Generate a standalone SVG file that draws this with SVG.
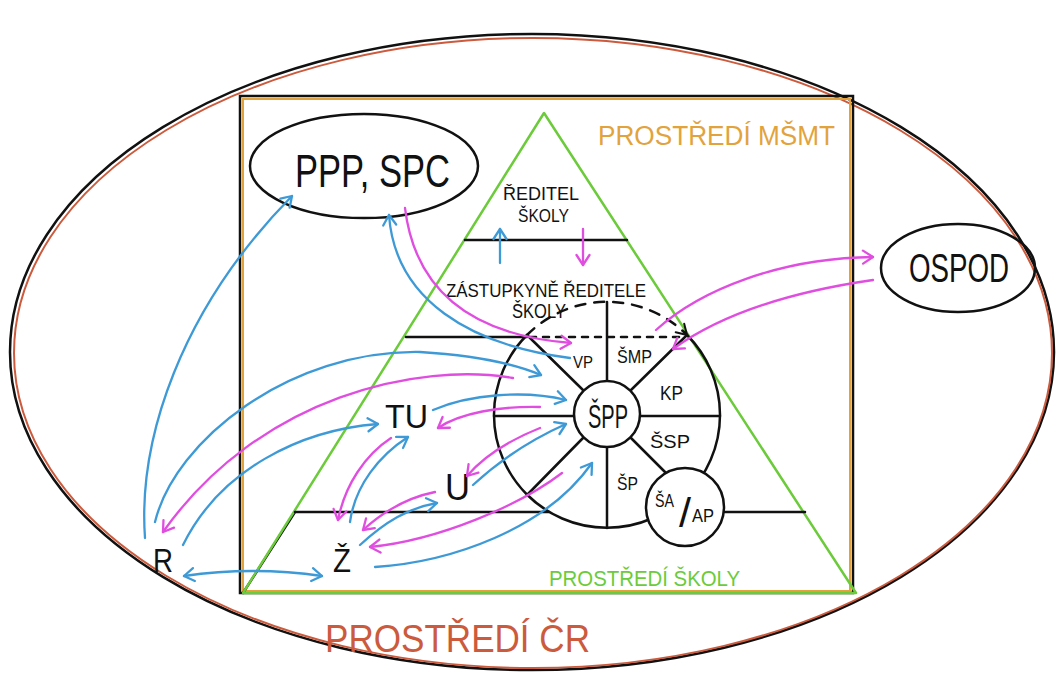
<svg xmlns="http://www.w3.org/2000/svg" width="1057" height="673" viewBox="0 0 1057 673">
<style>
  text { font-family: "Liberation Sans", Arial, sans-serif; fill: #111; }
  .ln { fill: none; stroke: #111; stroke-width: 2.5; stroke-linecap: round; }
  .blue { fill: none; stroke: #3e9ad6; stroke-width: 2.3; stroke-linecap: round; marker-end: url(#ab); }
  .pink { fill: none; stroke: #e04ee0; stroke-width: 2.3; stroke-linecap: round; marker-end: url(#ap); }
</style>
<defs>
  <marker id="ab" markerUnits="userSpaceOnUse" markerWidth="16" markerHeight="16" viewBox="0 0 16 16" refX="13" refY="8" orient="auto-start-reverse">
    <path d="M3,1.5 L13,8 L3,14.5" fill="none" stroke="#3e9ad6" stroke-width="2.3" stroke-linecap="round" stroke-linejoin="round"/>
  </marker>
  <marker id="ap" markerUnits="userSpaceOnUse" markerWidth="16" markerHeight="16" viewBox="0 0 16 16" refX="13" refY="8" orient="auto">
    <path d="M3,1.5 L13,8 L3,14.5" fill="none" stroke="#e04ee0" stroke-width="2.3" stroke-linecap="round" stroke-linejoin="round"/>
  </marker>
  <marker id="ak" markerUnits="userSpaceOnUse" markerWidth="16" markerHeight="16" viewBox="0 0 16 16" refX="13" refY="8" orient="auto">
    <path d="M3,2 L13,8 L3,14" fill="none" stroke="#111" stroke-width="2" stroke-linecap="round" stroke-linejoin="round"/>
  </marker>
</defs>
<rect width="1057" height="673" fill="#fff"/>

<g id="prostredi-cr">
  <ellipse cx="532" cy="352" rx="522" ry="318" fill="none" stroke="#111" stroke-width="2.5"/>
  <ellipse cx="533" cy="353" rx="519" ry="315" fill="none" stroke="#cc5a3c" stroke-width="2"/>
  <text x="325" y="652" font-size="38" textLength="265" lengthAdjust="spacingAndGlyphs" style="fill:#cc5a3c">PROSTŘEDÍ ČR</text>
</g>

<g id="prostredi-msmt">
  <rect x="240" y="96" width="613" height="497" fill="none" stroke="#111" stroke-width="2.5"/>
  <rect x="243" y="99" width="607" height="492" fill="none" stroke="#e2a33c" stroke-width="2"/>
  <text x="598" y="145" font-size="27" textLength="237" lengthAdjust="spacingAndGlyphs" style="fill:#e2a33c">PROSTŘEDÍ MŠMT</text>
</g>

<g id="prostredi-skoly">
  <line class="ln" x1="295" y1="512" x2="243" y2="593"/>
  <polygon points="544,113 243,593 856,593" fill="none" stroke="#6ccb3a" stroke-width="2.5" stroke-linejoin="round"/>
  <line class="ln" x1="465" y1="240" x2="627" y2="240"/>
  <line class="ln" x1="406" y1="337" x2="527" y2="337"/>
  <line class="ln" x1="295" y1="512" x2="549" y2="512"/>
  <line class="ln" x1="722" y1="512" x2="805" y2="512"/>
  <text x="549" y="586" font-size="22" textLength="191" lengthAdjust="spacingAndGlyphs" style="fill:#6ccb3a">PROSTŘEDÍ ŠKOLY</text>
</g>

<g id="reditel-skoly">
  <text x="503" y="200" font-size="18" textLength="76" lengthAdjust="spacingAndGlyphs">ŘEDITEL</text>
  <text x="518" y="222" font-size="19" textLength="51" lengthAdjust="spacingAndGlyphs">ŠKOLY</text>
</g>

<g id="zastupkyne">
  <text x="446" y="297" font-size="19" textLength="200" lengthAdjust="spacingAndGlyphs">ZÁSTUPKYNĚ ŘEDITELE</text>
  <text x="512" y="318" font-size="20" textLength="54" lengthAdjust="spacingAndGlyphs">ŠKOLY</text>
</g>

<g id="spp-wheel">
  <path class="ln" d="M527,335 A113,113 0 0 1 687,335" stroke-dasharray="10 9" marker-end="url(#ak)"/>
  <path class="ln" d="M687,335 A113,113 0 1 1 527,335"/>
  <line class="ln" x1="530" y1="337" x2="686" y2="337" stroke-dasharray="6 7" stroke-width="2"/>
  <line class="ln" x1="607" y1="302" x2="607" y2="381"/>
  <line class="ln" x1="607" y1="447" x2="607" y2="528"/>
  <line class="ln" x1="494" y1="416" x2="574" y2="416"/>
  <line class="ln" x1="640" y1="416" x2="720" y2="416"/>
  <line class="ln" x1="527" y1="335" x2="584" y2="391"/>
  <line class="ln" x1="630" y1="391" x2="687" y2="335"/>
  <line class="ln" x1="584" y1="437" x2="527" y2="495"/>
  <line class="ln" x1="630" y1="437" x2="665" y2="472"/>
  <circle cx="607" cy="414" r="33" fill="#fff" stroke="#111" stroke-width="2.5"/>
  <text x="588" y="428" font-size="34" textLength="40" lengthAdjust="spacingAndGlyphs">ŠPP</text>
  <text x="573" y="368" font-size="17" textLength="20" lengthAdjust="spacingAndGlyphs">VP</text>
  <text x="617" y="363" font-size="18" textLength="35" lengthAdjust="spacingAndGlyphs">ŠMP</text>
  <text x="660" y="400" font-size="20" textLength="23" lengthAdjust="spacingAndGlyphs">KP</text>
  <text x="650" y="448" font-size="18" textLength="40" lengthAdjust="spacingAndGlyphs">ŠSP</text>
  <text x="617" y="490" font-size="18" textLength="21" lengthAdjust="spacingAndGlyphs">ŠP</text>
  <circle cx="685" cy="507" r="39" fill="#fff" stroke="#111" stroke-width="2.5"/>
  <text font-size="18"><tspan x="655" y="507" textLength="19" lengthAdjust="spacingAndGlyphs">ŠA</tspan><tspan x="679" y="527" font-size="40" textLength="12" lengthAdjust="spacingAndGlyphs">/</tspan><tspan x="692" y="522" textLength="22" lengthAdjust="spacingAndGlyphs">AP</tspan></text>
</g>

<g id="ppp-spc">
  <ellipse cx="364" cy="166" rx="114" ry="52" fill="none" stroke="#111" stroke-width="2.5"/>
  <text x="295" y="187" font-size="46" textLength="155" lengthAdjust="spacingAndGlyphs">PPP, SPC</text>
</g>

<g id="ospod">
  <ellipse cx="958" cy="268" rx="77" ry="44" fill="none" stroke="#111" stroke-width="2.5"/>
  <text x="909" y="282" font-size="40" textLength="100" lengthAdjust="spacingAndGlyphs">OSPOD</text>
</g>

<g id="tu"><text x="385" y="428" font-size="34" textLength="43" lengthAdjust="spacingAndGlyphs">TU</text></g>
<g id="u"><text x="445" y="500" font-size="36" textLength="25" lengthAdjust="spacingAndGlyphs">U</text></g>
<g id="z"><text x="333" y="572" font-size="34" textLength="18" lengthAdjust="spacingAndGlyphs">Ž</text></g>
<g id="r"><text x="153" y="572" font-size="33" textLength="20" lengthAdjust="spacingAndGlyphs">R</text></g>

<g id="connectors">
  <path class="blue" d="M145,538 C138,440 180,310 292,196"/>
  <path class="blue" d="M570,358 C470,345 395,300 389,215"/>
  <path class="pink" d="M405,208 C415,290 470,335 571,343"/>
  <path class="blue" d="M500,263 L500,229"/>
  <path class="pink" d="M583,229 L583,265"/>
  <path class="pink" d="M656,330 C700,290 780,258 873,257"/>
  <path class="pink" d="M873,280 C790,292 720,315 673,349"/>
  <path class="blue" d="M155,522 C175,440 290,350 420,352 C470,355 510,362 541,375"/>
  <path class="pink" d="M513,378 C420,362 260,395 163,532"/>
  <path class="blue" d="M183,545 C220,470 300,430 378,424"/>
  <path class="blue" d="M184,576 Q252,566 322,576" marker-start="url(#ab)"/>
  <path class="blue" d="M350,522 C355,485 380,455 408,437"/>
  <path class="pink" d="M391,438 C365,455 345,485 338,520"/>
  <path class="blue" d="M360,545 C385,522 408,508 437,503"/>
  <path class="pink" d="M435,492 C410,497 385,510 363,530"/>
  <path class="pink" d="M562,473 C520,505 440,540 370,547"/>
  <path class="blue" d="M375,567 C450,562 545,530 592,463"/>
  <path class="blue" d="M433,410 C470,394 525,390 566,400"/>
  <path class="pink" d="M540,407 C500,406 460,413 438,428"/>
  <path class="blue" d="M473,485 C500,460 530,440 566,424"/>
  <path class="pink" d="M540,428 C510,440 485,455 467,476"/>
</g>
</svg>
